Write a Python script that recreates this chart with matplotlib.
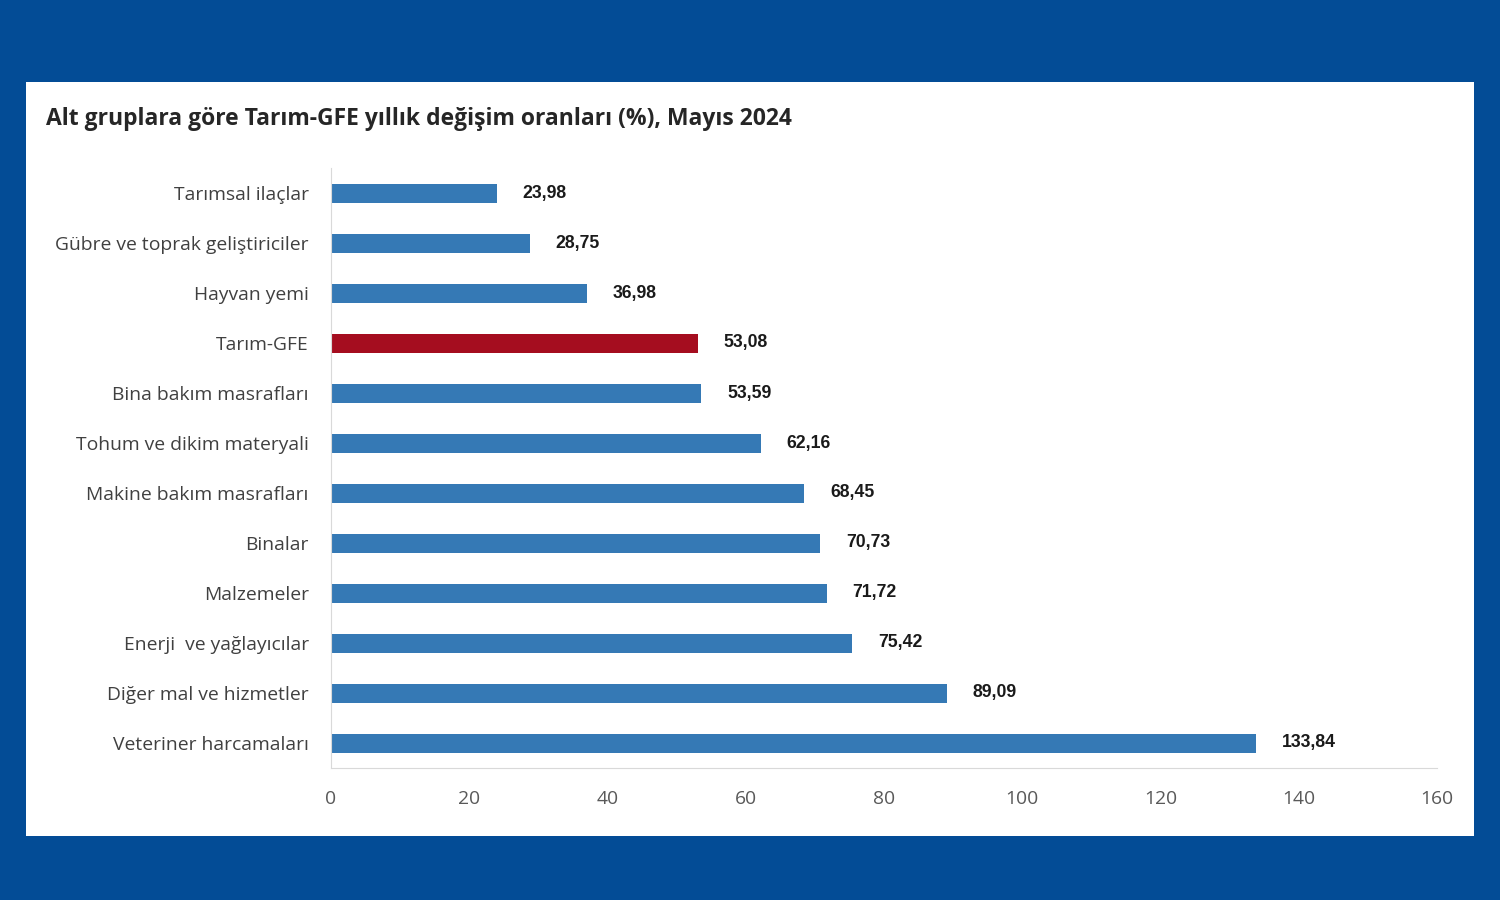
import matplotlib.pyplot as plt
from matplotlib.patches import Rectangle

categories = ["Tarımsal ilaçlar", "Gübre ve toprak geliştiriciler", "Hayvan yemi",
              "Tarım-GFE", "Bina bakım masrafları", "Tohum ve dikim materyali",
              "Makine bakım masrafları", "Binalar", "Malzemeler",
              "Enerji  ve yağlayıcılar", "Diğer mal ve hizmetler", "Veteriner harcamaları"]
values = [23.98, 28.75, 36.98, 53.08, 53.59, 62.16, 68.45, 70.73, 71.72, 75.42, 89.09, 133.84]
labels = ["23,98", "28,75", "36,98", "53,08", "53,59", "62,16", "68,45", "70,73",
          "71,72", "75,42", "89,09", "133,84"]
xticks = [0, 20, 40, 60, 80, 100, 120, 140, 160]

blue = "#3579B5"
red = "#A50D1F"
colors = [red if c == "Tarım-GFE" else blue for c in categories]

fig = plt.figure(figsize=(15, 9), dpi=100, facecolor="#034C96")
# white panel
fig.patches.append(Rectangle((26 / 1500, 64 / 900), 1448 / 1500, 754 / 900,
                             transform=fig.transFigure, facecolor="white",
                             edgecolor="none", zorder=0))

ax = fig.add_axes([331 / 1500, 132 / 900, 1106 / 1500, 600 / 900])
ax.set_facecolor("none")
ax.set_zorder(2)

y = list(range(len(categories)))
ax.barh(y, values, height=0.38, color=colors, zorder=2)
ax.set_ylim(len(categories) - 0.5, -0.5)
ax.set_xlim(0, 160)

for yi, v, lab in zip(y, values, labels):
    ax.annotate(lab, (v, yi), xytext=(18.7, 0), textcoords="offset points",
                va="center", ha="left", fontsize=12.7, fontweight="bold",
                family="Liberation Sans", color="#1a1a1a")

ax.set_yticks(y)
ax.set_yticklabels(categories, fontsize=13.9, family="Open Sans", color="#404040")
ax.set_xticks(xticks)
ax.set_xticklabels([str(t) for t in xticks], fontsize=13.9, family="Open Sans",
                   color="#595959")
ax.tick_params(axis="both", length=0)
ax.tick_params(axis="y", pad=16)
ax.tick_params(axis="x", pad=16)

for s in ["top", "right"]:
    ax.spines[s].set_visible(False)
ax.spines["left"].set_color("#d9d9d9")
ax.spines["bottom"].set_color("#d9d9d9")

fig.text(46 / 1500, 1 - 119 / 900, "Alt gruplara göre Tarım-GFE yıllık değişim oranları (%), Mayıs 2024",
         fontsize=16.5, fontweight="bold", family="Open Sans", color="#262626",
         va="center", ha="left")

fig.savefig("out.png", dpi=100, facecolor=fig.get_facecolor())
